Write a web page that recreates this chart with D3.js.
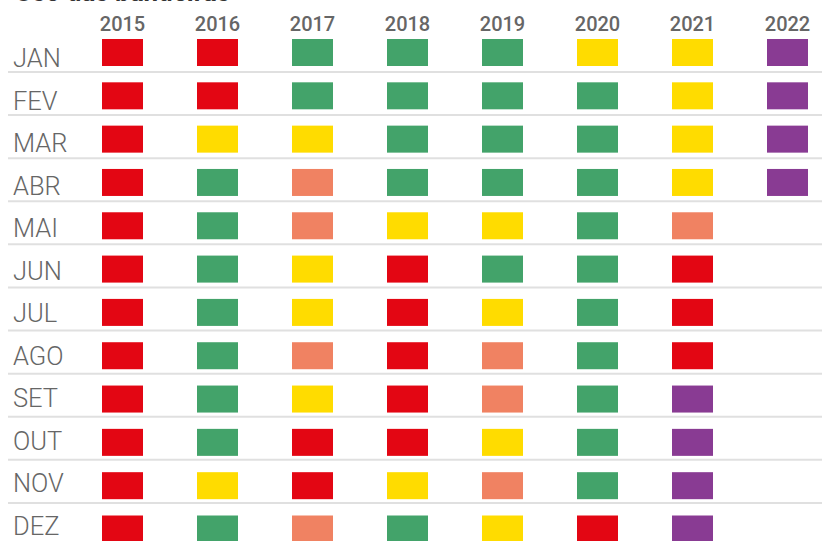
<!DOCTYPE html>
<html><head><meta charset="utf-8">
<script src="https://cdn.jsdelivr.net/npm/d3@7"></script>
<style>body{margin:0;background:#fff;}svg{display:block;}</style>
</head><body>
<script>
const title = "Uso das bandeiras";
const years = ["2015","2016","2017","2018","2019","2020","2021","2022"];
const months = ["JAN","FEV","MAR","ABR","MAI","JUN","JUL","AGO","SET","OUT","NOV","DEZ"];
// flag codes: G verde, Y amarela, S vermelha patamar 1, R vermelha patamar 2, P escassez hídrica
const y2015 = ["R","R","R","R","R","R","R","R","R","R","R","R"];
const y2016 = ["R","R","Y","G","G","G","G","G","G","G","Y","G"];
const y2017 = ["G","G","Y","S","S","Y","Y","S","Y","R","R","S"];
const y2018 = ["G","G","G","G","Y","R","R","R","R","R","Y","G"];
const y2019 = ["G","G","G","G","Y","G","Y","S","S","Y","S","Y"];
const y2020 = ["Y","G","G","G","G","G","G","G","G","G","G","R"];
const y2021 = ["Y","Y","Y","Y","S","R","R","R","P","P","P","P"];
const y2022 = ["P","P","P","P"];
const flagCodes = ["G","Y","S","R","P"];
const flagColors = ["#43a36a","#ffdc00","#f08262","#e30613","#893b93"];

const series = [y2015,y2016,y2017,y2018,y2019,y2020,y2021,y2022];
const cells = [];
series.forEach((s,i)=>s.forEach((f,j)=>cells.push({year:years[i],month:months[j],flag:f})));

const W=822,H=541;
const svg=d3.select("body").append("svg").attr("width",W).attr("height",H);
const x=d3.scalePoint().domain(years).range([122.5,787.5]);
const y=d3.scalePoint().domain(months).range([39,515.5]);
const yLine=d3.scalePoint().domain(months).range([72,546]);
const yLabel=d3.scalePoint().domain(months).range([67,534.5]);
const color=d3.scaleOrdinal().domain(flagCodes).range(flagColors);
const rw=41, rh=27;

svg.append("text").attr("x",15).attr("y",0.5)
  .attr("font-family","Roboto, sans-serif").attr("font-weight",700)
  .attr("font-size",26).attr("fill","#333").text(title);

// row separators
svg.append("g").selectAll("line").data(months).join("line")
  .attr("x1",8).attr("x2",W)
  .attr("y1",d=>yLine(d)).attr("y2",d=>yLine(d))
  .attr("stroke","#e0e0e0").attr("stroke-width",2);

// year labels
svg.append("g").selectAll("text").data(years).join("text")
  .attr("x",d=>x(d)).attr("y",30.5).attr("text-anchor","middle")
  .attr("font-family","Roboto, sans-serif").attr("font-weight",500)
  .attr("font-size",20).attr("fill","#666").text(d=>d);

// month labels
svg.append("g").selectAll("text").data(months).join("text")
  .attr("x",13).attr("y",d=>yLabel(d))
  .attr("font-family","Roboto, sans-serif").attr("font-weight",300)
  .attr("font-size",25.5).attr("fill","#666").text(d=>d);

// cells
svg.append("g").selectAll("rect").data(cells).join("rect")
  .attr("x",d=>x(d.year)-rw/2).attr("y",d=>y(d.month))
  .attr("width",rw).attr("height",rh)
  .attr("fill",d=>color(d.flag));
</script>
</body></html>
